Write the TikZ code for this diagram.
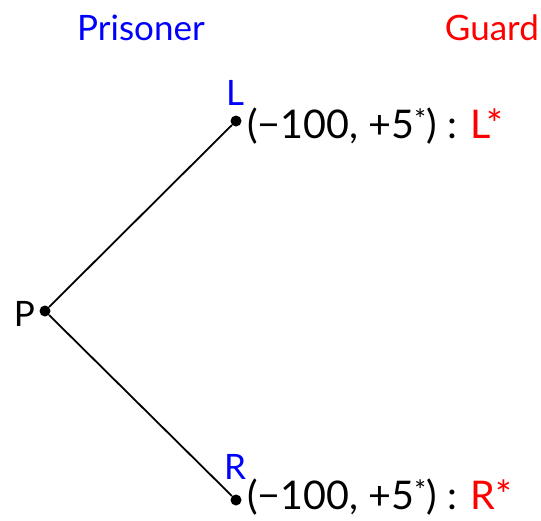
\documentclass[tikz,border=0pt]{standalone}
\usepackage{fontspec}
\setmainfont{Lato}
\begin{document}
\begin{tikzpicture}[x=1pt,y=-1pt,
  every node/.style={font=\fontsize{35}{40}\selectfont, inner sep=0pt},
  payoff/.style={font=\fontsize{39.5}{44}\selectfont, anchor=west},
  dot/.style={circle,fill=black,minimum size=11pt,inner sep=0pt},
  edge/.style={line width=1.8pt}]
\useasboundingbox (0,0) rectangle (541,520);
\node[text=blue] (prisoner) at (141,28) {Prisoner};
\node[text=red, anchor=east] (guard) at (539,28) {Guard};
\node[dot] (p) at (45,311) {};
\node[dot] (l) at (236,121) {};
\node[dot] (r) at (236,500) {};
\node[anchor=east] (plab) at (35,314) {P};
\node[text=blue] (llab) at (235,93) {L};
\node[text=blue] (rlab) at (235,467) {R};
\node[payoff] (lpay) at (247,126) {(−100, +5\textsuperscript{*}) : \textcolor{red}{L*}};
\node[payoff] (rpay) at (247,497) {(−100, +5\textsuperscript{*}) : \textcolor{red}{R*}};
\draw[edge] (p) -- (l);
\draw[edge] (p) -- (r);
\end{tikzpicture}
\end{document}
